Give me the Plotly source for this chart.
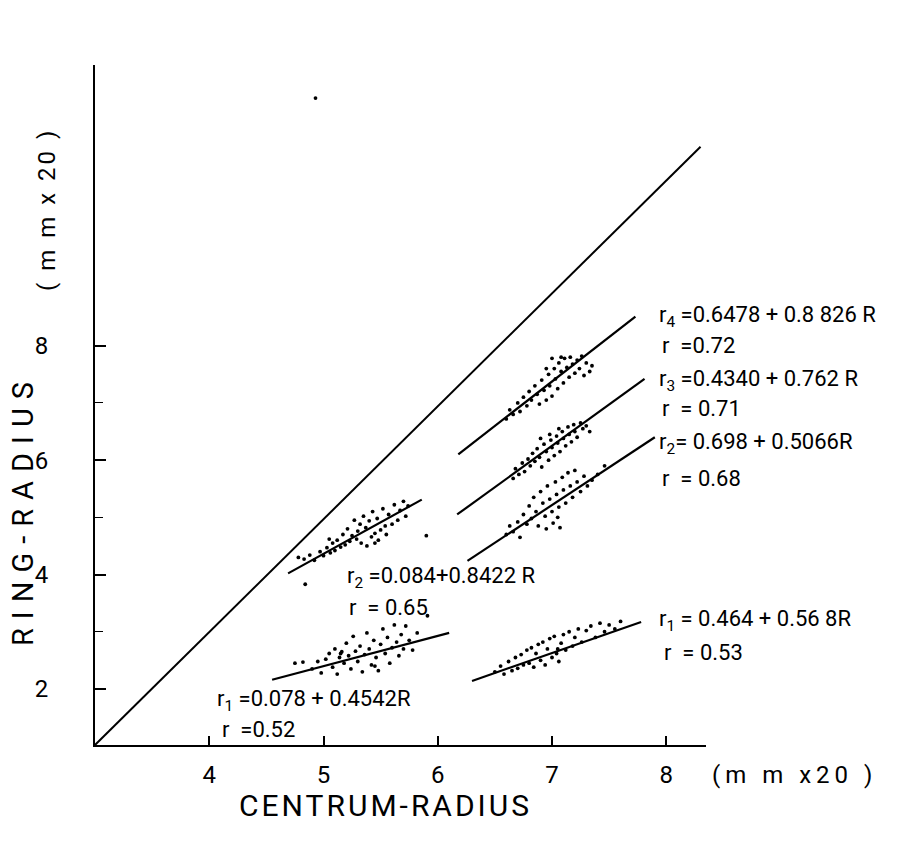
import plotly.graph_objects as go

# ---------------- data ----------------
x_ticks = [4, 5, 6, 7, 8]
y_ticks = [2, 4, 6, 8]
y_minor = [3, 5, 7]

# diagonal reference line
diag_x = [3.0, 8.30]
diag_y = [1.02, 11.48]

# regression lines (endpoints)
line_ul_x = [4.69, 5.86]; line_ul_y = [4.02, 5.31]      # left r2
line_ll_x = [4.55, 6.10]; line_ll_y = [2.16, 2.98]      # left r1
line_r4_x = [6.18, 7.73]; line_r4_y = [6.10, 8.51]
line_r3_x = [6.17, 7.81]; line_r3_y = [5.05, 7.42]
line_r2_x = [6.26, 7.90]; line_r2_y = [4.24, 6.40]
line_r1_x = [6.30, 7.78]; line_r1_y = [2.14, 3.17]

# scatter clusters
ul_x = [4.78, 4.83, 4.88, 4.92, 4.97, 5.00, 5.03, 5.06, 5.08, 5.10, 5.12, 5.15, 5.17, 5.19, 5.21,
        5.23, 5.25, 5.27, 5.29, 5.30, 5.32, 5.33, 5.35, 5.37, 5.38, 5.40, 5.42, 5.43, 5.45, 5.47,
        5.48, 5.50, 5.52, 5.54, 5.55, 5.57, 5.60, 5.62, 5.65, 5.67, 5.70, 5.72, 5.74, 5.05, 5.45,
        5.90, 4.84]
ul_y = [4.30, 4.27, 4.34, 4.25, 4.40, 4.33, 4.47, 4.38, 4.55, 4.42, 4.60, 4.48, 4.70, 4.52, 4.80,
        4.58, 4.68, 4.95, 4.62, 4.76, 4.88, 4.55, 5.02, 4.82, 4.50, 4.94, 4.66, 5.10, 4.72, 4.98,
        4.60, 4.78, 5.15, 4.85, 4.70, 5.05, 4.88, 5.22, 4.95, 5.12, 5.28, 5.02, 5.20, 4.62, 4.55,
        4.68, 3.83]

ll_x = [4.75, 4.82, 4.90, 4.95, 4.98, 5.02, 5.05, 5.08, 5.10, 5.12, 5.14, 5.16, 5.18, 5.20, 5.22,
        5.24, 5.26, 5.28, 5.30, 5.32, 5.34, 5.36, 5.38, 5.40, 5.42, 5.44, 5.46, 5.48, 5.50, 5.52,
        5.54, 5.56, 5.58, 5.60, 5.62, 5.64, 5.66, 5.68, 5.70, 5.72, 5.75, 5.78, 5.82, 5.15, 5.45,
        5.91]
ll_y = [2.45, 2.47, 2.35, 2.48, 2.28, 2.52, 2.62, 2.38, 2.70, 2.26, 2.55, 2.65, 2.45, 2.80, 2.58,
        2.35, 2.92, 2.66, 2.48, 2.75, 2.30, 2.60, 2.98, 2.70, 2.42, 2.85, 2.55, 2.32, 2.78, 3.05,
        2.62, 2.90, 2.45, 2.72, 3.12, 2.82, 2.58, 2.95, 2.70, 3.10, 2.85, 2.68, 2.98, 2.62, 2.40,
        3.28]

r4_x = [6.60, 6.63, 6.66, 6.70, 6.72, 6.75, 6.78, 6.80, 6.82, 6.85, 6.87, 6.89, 6.91, 6.93, 6.95,
        6.97, 6.98, 7.00, 7.02, 7.03, 7.05, 7.06, 7.08, 7.10, 7.11, 7.13, 7.15, 7.16, 7.18, 7.20,
        7.22, 7.24, 7.26, 7.28, 7.30, 7.33, 7.35, 7.00, 7.08, 6.95]
r4_y = [6.72, 6.88, 6.80, 7.00, 6.85, 7.10, 6.95, 7.20, 7.05, 7.30, 7.15, 6.98, 7.40, 7.22, 7.05,
        7.50, 7.30, 7.12, 7.60, 7.42, 7.25, 7.70, 7.55, 7.35, 7.78, 7.62, 7.45, 7.80, 7.68, 7.52,
        7.75, 7.60, 7.82, 7.48, 7.70, 7.55, 7.65, 7.78, 7.80, 7.60]

r3_x = [6.66, 6.68, 6.71, 6.74, 6.76, 6.79, 6.81, 6.83, 6.85, 6.87, 6.89, 6.91, 6.93, 6.95, 6.97,
        6.99, 7.00, 7.02, 7.04, 7.05, 7.07, 7.09, 7.10, 7.12, 7.14, 7.15, 7.17, 7.19, 7.20, 7.22,
        7.25, 7.27, 7.30, 7.33, 6.98, 7.06, 6.90]
r3_y = [5.68, 5.85, 5.75, 5.95, 5.80, 6.02, 5.90, 6.12, 5.98, 6.20, 6.05, 5.88, 6.28, 6.15, 6.00,
        6.35, 6.22, 6.08, 6.42, 6.30, 6.15, 6.50, 6.38, 6.25, 6.58, 6.45, 6.32, 6.62, 6.50, 6.40,
        6.65, 6.55, 6.60, 6.50, 6.45, 6.55, 6.38]

r2_x = [6.60, 6.63, 6.66, 6.70, 6.72, 6.75, 6.78, 6.80, 6.82, 6.84, 6.86, 6.88, 6.90, 6.92, 6.94,
        6.96, 6.98, 7.00, 7.01, 7.03, 7.04, 7.06, 7.07, 7.09, 7.10, 7.12, 7.14, 7.16, 7.18, 7.20,
        7.22, 7.25, 7.28, 7.31, 7.35, 7.40, 7.46, 7.05, 6.95]
r2_y = [4.70, 4.85, 4.75, 4.92, 4.65, 5.05, 4.88, 5.20, 4.98, 5.35, 5.10, 4.85, 5.45, 5.25, 5.02,
        5.55, 5.32, 5.10, 4.90, 5.62, 5.40, 5.18, 4.82, 5.70, 5.48, 5.25, 5.78, 5.55, 5.35, 5.82,
        5.62, 5.45, 5.72, 5.55, 5.65, 5.75, 5.90, 5.00, 4.80]

r1_x = [6.50, 6.55, 6.58, 6.62, 6.65, 6.68, 6.70, 6.73, 6.75, 6.78, 6.80, 6.82, 6.84, 6.86, 6.88,
        6.90, 6.92, 6.94, 6.96, 6.98, 7.00, 7.02, 7.04, 7.06, 7.08, 7.10, 7.12, 7.15, 7.18, 7.20,
        7.23, 7.26, 7.30, 7.34, 7.38, 7.42, 7.46, 7.50, 7.55, 7.60, 7.05]
r1_y = [2.30, 2.40, 2.26, 2.48, 2.32, 2.55, 2.36, 2.60, 2.42, 2.68, 2.45, 2.72, 2.38, 2.62, 2.78,
        2.50, 2.82, 2.42, 2.70, 2.88, 2.55, 2.92, 2.62, 2.48, 2.80, 2.95, 2.68, 3.00, 2.75, 2.90,
        3.05, 2.82, 3.02, 3.10, 2.90, 3.15, 3.00, 3.12, 3.05, 3.18, 2.70]

stray_x = [4.93]
stray_y = [12.33]

labels = [
    "r<sub>4</sub> =0.6478 + 0.8 826 R", "r  =0.72",
    "r<sub>3</sub> =0.4340 + 0.762 R", "r  = 0.71",
    "r<sub>2</sub>= 0.698 + 0.5066R", "r  = 0.68",
    "r<sub>1</sub> = 0.464 + 0.56 8R", "r  = 0.53",
    "r<sub>2</sub> =0.084+0.8422 R", "r  = 0.65",
    "r<sub>1</sub> =0.078 + 0.4542R", "r  =0.52",
]
y_title = "RING-RADIUS"
y_unit = "( m m x 20 )"
x_title = "CENTRUM-RADIUS"
x_unit = "(m m x20 )"

# ---------------- layout helpers (target pixel -> paper fraction) ----------------
PL, PR, PT, PB = 95.0, 706.0, 65.0, 745.0
def fx(p): return (p - PL) / (PR - PL)
def fy(p): return (PB - p) / (PB - PT)
def spaced(t, px): return f"<span style='letter-spacing:{px}px'>{t}</span>"

label_px = [(657, 316), (660, 345), (657, 380), (660, 408), (657, 443), (660, 478),
            (657, 620), (662, 652), (345, 577), (347, 607), (215, 700), (220, 729)]

FONT = "Roboto, DejaVu Sans, sans-serif"
fig = go.Figure()

fig.add_trace(go.Scatter(x=diag_x, y=diag_y, mode="lines",
                         line=dict(color="black", width=2)))
for lx, ly in [(line_ul_x, line_ul_y), (line_ll_x, line_ll_y), (line_r4_x, line_r4_y),
               (line_r3_x, line_r3_y), (line_r2_x, line_r2_y), (line_r1_x, line_r1_y)]:
    fig.add_trace(go.Scatter(x=lx, y=ly, mode="lines", line=dict(color="black", width=2.2)))

for cx, cy in [(ul_x, ul_y), (ll_x, ll_y), (r4_x, r4_y), (r3_x, r3_y),
               (r2_x, r2_y), (r1_x, r1_y), (stray_x, stray_y)]:
    fig.add_trace(go.Scatter(x=cx, y=cy, mode="markers",
                             marker=dict(color="black", size=3.8, line=dict(width=0))))

annotations = []
for txt, (px, py) in zip(labels, label_px):
    annotations.append(dict(x=fx(px), y=fy(py), xref="paper", yref="paper", text=txt,
                            showarrow=False, xanchor="left", yanchor="middle",
                            font=dict(family=FONT, size=22, color="black")))

annotations += [
    dict(x=fx(23), y=fy(510), xref="paper", yref="paper", text=spaced(y_title, 9),
         textangle=-90, showarrow=False, xanchor="center", yanchor="middle",
         font=dict(family=FONT, size=29, color="black")),
    dict(x=fx(47), y=fy(210), xref="paper", yref="paper", text=spaced(y_unit, 3),
         textangle=-90, showarrow=False, xanchor="center", yanchor="middle",
         font=dict(family=FONT, size=24, color="black")),
    dict(x=fx(385), y=fy(806), xref="paper", yref="paper", text=spaced(x_title, 3),
         showarrow=False, xanchor="center", yanchor="middle",
         font=dict(family=FONT, size=30, color="black")),
    dict(x=fx(710), y=fy(775), xref="paper", yref="paper", text=spaced(x_unit, 5),
         showarrow=False, xanchor="left", yanchor="middle",
         font=dict(family=FONT, size=24, color="black")),
]

# the page body has an 8 px margin, so the margins are offset by 8 px
fig.update_layout(
    width=897, height=842,
    margin=dict(l=87, r=199, t=57, b=105),
    paper_bgcolor="white", plot_bgcolor="white",
    showlegend=False,
    annotations=annotations,
    xaxis=dict(range=[3.0, 3.0 + 611 / 114.25], tickmode="array", tickvals=x_ticks,
               ticks="inside", ticklen=9, tickwidth=1.5, tickcolor="black",
               showline=True, linecolor="black", linewidth=2,
               showgrid=False, zeroline=False, ticklabelstandoff=7,
               tickfont=dict(family=FONT, size=24, color="black")),
    yaxis=dict(range=[1.02, 1.02 + 680 / 57.2], tickmode="array", tickvals=y_ticks,
               ticks="inside", ticklen=11, tickwidth=1.5, tickcolor="black",
               minor=dict(tickmode="array", tickvals=y_minor, ticks="inside", ticklen=8,
                          tickwidth=1.2, tickcolor="black", showgrid=False),
               showline=True, linecolor="black", linewidth=2,
               showgrid=False, zeroline=False, ticklabelstandoff=40,
               tickfont=dict(family=FONT, size=24, color="black")),
)

fig.write_html("out.html")
